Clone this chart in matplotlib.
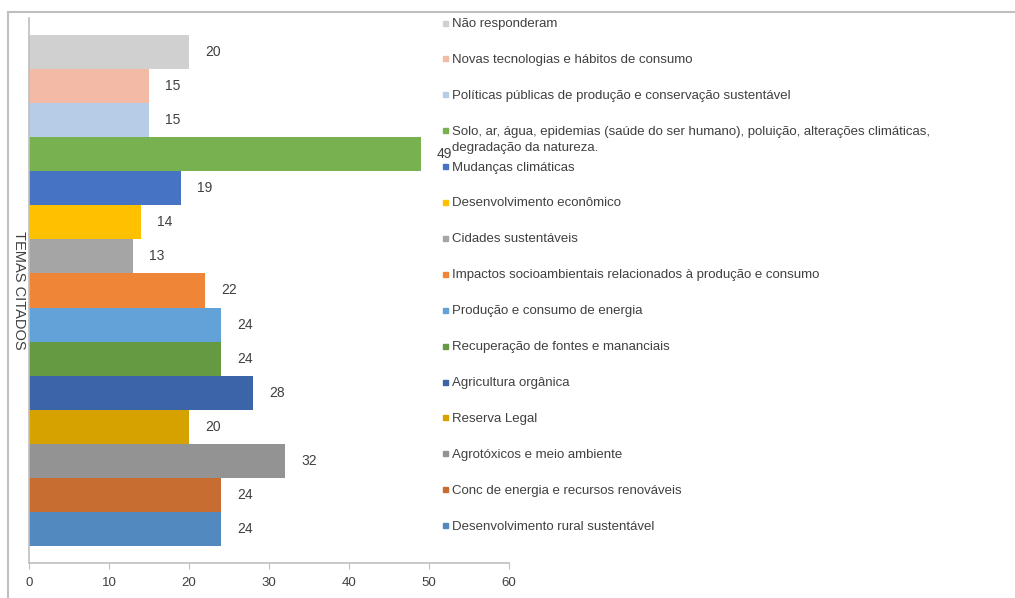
import matplotlib.pyplot as plt
from matplotlib.lines import Line2D
from matplotlib.patches import Rectangle

plt.rcParams['font.family'] = ['Liberation Sans', 'DejaVu Sans']

# categories as listed top to bottom in the chart
temas = [
    "Não responderam",
    "Novas tecnologias e hábitos de consumo",
    "Políticas públicas de produção e conservação sustentável",
    "Solo, ar, água, epidemias (saúde do ser humano), poluição, alterações climáticas,\ndegradação da natureza.",
    "Mudanças climáticas",
    "Desenvolvimento econômico",
    "Cidades sustentáveis",
    "Impactos socioambientais relacionados à produção e consumo",
    "Produção e consumo de energia",
    "Recuperação de fontes e mananciais",
    "Agricultura orgânica",
    "Reserva Legal",
    "Agrotóxicos e meio ambiente",
    "Conc de energia e recursos renováveis",
    "Desenvolvimento rural sustentável",
]
valores = [20, 15, 15, 49, 19, 14, 13, 22, 24, 24, 28, 20, 32, 24, 24]
cores = ["#D0D0D0", "#F3BBA6", "#B6CCE7", "#77B150", "#4673C3", "#FFC000",
         "#A5A5A5", "#EE8537", "#62A2D8", "#659A43", "#3C64A8", "#D6A200",
         "#939393", "#C86D32", "#5289BE"]

W, H = 1015, 598
fig = plt.figure(figsize=(W / 100, H / 100), dpi=100)
ax = fig.add_axes([29 / W, 1 - 563 / H, 480 / W, 545 / H])

n = len(temas)
pos = [n - 1 - i for i in range(n)]
ax.barh(pos, valores, height=1.0, color=cores)

for p, v in zip(pos, valores):
    ax.text(v + 2, p, str(v), va='center', ha='left', fontsize=10, color='#404040')

ax.set_xlim(0, 60)
ax.set_ylim(-1, n)
ax.set_xticks(range(0, 61, 10))
ax.set_yticks([])
for s in ['top', 'right']:
    ax.spines[s].set_visible(False)
for s in ['left', 'bottom']:
    ax.spines[s].set_color('#BFBFBF')
    ax.spines[s].set_linewidth(1.2)
ax.tick_params(axis='x', colors='#BFBFBF', labelcolor='#404040', labelsize=9.5,
               length=4, pad=6)
ax.set_ylabel("TEMAS CITADOS", rotation=-90, fontsize=10.5, color='#404040',
              va='center')
ax.yaxis.set_label_coords(-0.02, 0.5)

# legend drawn entry by entry, evenly spaced like the original
step = 35.9
for i, (lab, c) in enumerate(zip(temas, cores)):
    yc = 23 + step * i
    fig.patches.append(Rectangle((443 / W, 1 - (yc + 2.5) / H), 5 / W, 5 / H,
                                 transform=fig.transFigure, color=c))
    fig.text(452 / W, 1 - (yc - 5) / H, lab, va='top', ha='left', fontsize=9.5,
             color='#404040', linespacing=1.45)

# outer frame lines (top and left only)
fig.add_artist(Line2D([8 / W, 1], [1 - 12 / H, 1 - 12 / H], color='#BFBFBF', lw=1.5))
fig.add_artist(Line2D([8 / W, 8 / W], [0, 1 - 12 / H], color='#BFBFBF', lw=1.5))

fig.savefig("out.png", dpi=100)
